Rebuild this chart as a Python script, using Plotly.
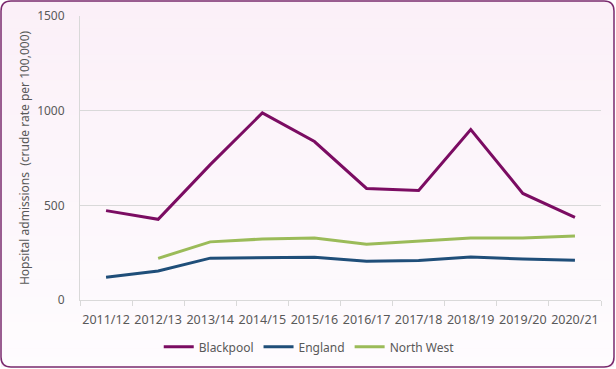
import plotly.graph_objects as go

years = ["2011/12", "2012/13", "2013/14", "2014/15", "2015/16",
         "2016/17", "2017/18", "2018/19", "2019/20", "2020/21"]
blackpool = [472, 426, 715, 988, 837, 589, 578, 900, 563, 436]
england = [120, 153, 221, 222, 226, 205, 208, 227, 216, 210]
north_west = [None, 220, 307, 322, 327, 295, 310, 327, 328, 338]

W, H = 616, 369
ML, MR, MT, MB = 80, 15, 16, 69
PW, PH = W - ML - MR, H - MT - MB


def px(x):
    return (x - ML) / PW


def py(y):
    return (H - MB - y) / PH


fig = go.Figure()
fig.add_trace(go.Scatter(x=years, y=blackpool, name="Blackpool", mode="lines",
                         line=dict(color="#7b0c62", width=3)))
fig.add_trace(go.Scatter(x=years, y=england, name="England", mode="lines",
                         line=dict(color="#1f4e79", width=3)))
fig.add_trace(go.Scatter(x=years, y=north_west, name="North West", mode="lines",
                         line=dict(color="#9bbb59", width=3)))

shapes = []
x0, x1, y0, y1, r = 1, 614, 1, 367, 10


def rpath(top, bottom, round_top, round_bottom):
    s = ""
    if round_top:
        s += f"M {px(x0)},{py(top + r)} Q {px(x0)},{py(top)} {px(x0 + r)},{py(top)} "
        s += f"L {px(x1 - r)},{py(top)} Q {px(x1)},{py(top)} {px(x1)},{py(top + r)} "
    else:
        s += f"M {px(x0)},{py(top)} L {px(x1)},{py(top)} "
    if round_bottom:
        s += f"L {px(x1)},{py(bottom - r)} Q {px(x1)},{py(bottom)} {px(x1 - r)},{py(bottom)} "
        s += f"L {px(x0 + r)},{py(bottom)} Q {px(x0)},{py(bottom)} {px(x0)},{py(bottom - r)} Z"
    else:
        s += f"L {px(x1)},{py(bottom)} L {px(x0)},{py(bottom)} Z"
    return s


top_c = (251, 240, 248)
bot_c = (254, 252, 254)


def mix(t):
    return "rgb(%d,%d,%d)" % tuple(round(a + (b - a) * t) for a, b in zip(top_c, bot_c))


shapes.append(dict(type="path", xref="paper", yref="paper", layer="below",
                   path=rpath(y0, y1, True, False), fillcolor=mix(0), line=dict(width=0)))
N = 40
start, end = y0 + r, y1 - r
for i in range(N):
    a = start + (end - start) * i / N
    b = start + (end - start) * (i + 1) / N + 0.5
    t = (a - y0) / (y1 - y0)
    shapes.append(dict(type="rect", xref="paper", yref="paper", layer="below",
                       x0=px(x0), x1=px(x1), y0=py(a), y1=py(b),
                       fillcolor=mix(t), line=dict(width=0)))
shapes.append(dict(type="path", xref="paper", yref="paper", layer="below",
                   path=rpath(end, y1, False, True), fillcolor=mix(1), line=dict(width=0)))
shapes.append(dict(type="path", xref="paper", yref="paper", layer="above",
                   path=rpath(y0, y1, True, True), fillcolor="rgba(0,0,0,0)",
                   line=dict(color="#7a2a6e", width=1.5)))

font = dict(family="Noto Sans, sans-serif", size=12, color="#595959")

fig.update_layout(
    width=W, height=H,
    margin=dict(l=ML, r=MR, t=MT, b=MB, autoexpand=False),
    paper_bgcolor="white",
    plot_bgcolor="rgba(0,0,0,0)",
    font=font,
    shapes=shapes,
    showlegend=True,
    legend=dict(orientation="h", x=0.44, xanchor="center", y=-0.165, yanchor="middle",
                font=font, bgcolor="rgba(0,0,0,0)", itemwidth=30,
                traceorder="normal"),
    xaxis=dict(type="category", range=[-0.5, 9.5], showgrid=False, showline=True,
               linecolor="#d9d9d9", linewidth=1, ticks="outside", tickson="boundaries",
               ticklen=5, tickcolor="#d9d9d9", tickfont=dict(font, size=12.5),
               fixedrange=True, tickangle=0, ticklabelstandoff=8, automargin=False),
    yaxis=dict(range=[0, 1500], tickvals=[0, 500, 1000, 1500], showgrid=True,
               gridcolor="#d9d9d9", gridwidth=1, showline=True, linecolor="#d9d9d9",
               zeroline=False, ticks="", tickfont=font, ticklabelstandoff=12,
               automargin=False,
               title=dict(text="Hopsital admissions  (crude rate per 100,000)",
                          font=font, standoff=4)),
)

fig.write_html("out.html", config={"displayModeBar": False},
               post_script="document.body.style.margin='0';document.body.style.padding='0';")
